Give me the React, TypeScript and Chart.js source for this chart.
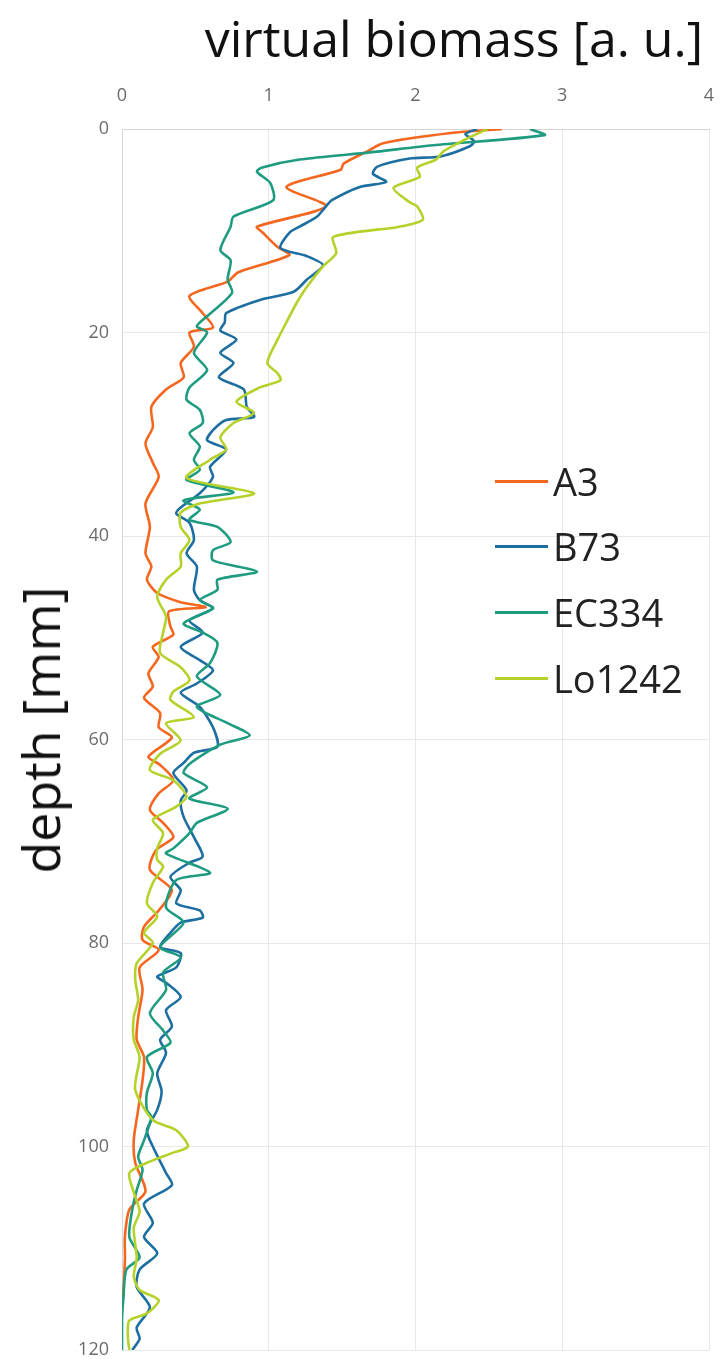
import React, { useEffect, useRef } from "react";
import { Chart, registerables } from "chart.js";

Chart.register(...registerables);

// [depth (mm), virtual biomass (a.u.)]
const a3Profile: number[][] = [
  [0,2.59],[0.4,2.24],[1.4,1.78],[2.2,1.67],[3.4,1.51],[4.0,1.49],[5.7,1.12],[7.6,1.39],[9.6,0.92],[10.2,0.96],[11.6,1.06],[12.4,1.14],[14.1,0.79],[15.0,0.72],[16.4,0.46],[18.1,0.55],[19.5,0.62],[20.0,0.46],[21.4,0.49],[23.0,0.40],[24.4,0.42],[25.6,0.30],[27.3,0.20],[29.3,0.21],[30.9,0.16],[32.8,0.21],[34.2,0.25],[36.8,0.16],[39.1,0.19],[41.7,0.16],[43.0,0.20],[44.3,0.17],[45.6,0.24],[46.5,0.40],[47.0,0.57],[47.4,0.32],[48.9,0.33],[49.7,0.35],[50.9,0.21],[51.9,0.25],[53.5,0.18],[54.8,0.21],[55.9,0.15],[57.4,0.26],[58.8,0.25],[59.8,0.34],[61.7,0.18],[62.5,0.26],[64.0,0.35],[65.3,0.25],[66.9,0.19],[68.2,0.28],[69.6,0.35],[70.9,0.23],[72.8,0.19],[74.8,0.34],[76.8,0.25],[78.4,0.15],[79.7,0.14],[80.7,0.25],[82.4,0.12],[84.6,0.14],[87.3,0.11],[89.5,0.10],[91.2,0.15],[93.5,0.14],[96.4,0.11],[99.4,0.08],[101.6,0.09],[104.4,0.16],[106.2,0.05],[108.8,0.02],[111.0,0.02],[114.0,0.01],[116.0,0.00]
];

const b73Profile: number[][] = [
  [0,2.42],[0.5,2.34],[1.2,2.40],[1.7,2.37],[2.7,2.17],[2.9,1.96],[3.7,1.74],[4.4,1.71],[5.2,1.80],[5.7,1.62],[7.0,1.43],[7.6,1.39],[8.6,1.33],[9.6,1.21],[10.2,1.14],[11.7,1.08],[12.5,1.26],[13.4,1.37],[14.8,1.26],[16.0,1.17],[16.8,0.94],[18.1,0.71],[19.0,0.70],[19.8,0.67],[20.7,0.78],[22.0,0.67],[23.0,0.76],[24.4,0.66],[25.6,0.83],[27.3,0.85],[28.3,0.90],[28.6,0.71],[29.6,0.62],[30.6,0.58],[31.5,0.71],[33.2,0.60],[34.2,0.62],[35.8,0.53],[37.2,0.40],[37.8,0.37],[38.7,0.46],[40.4,0.49],[41.7,0.44],[43.0,0.51],[45.3,0.49],[46.3,0.53],[47.1,0.62],[48.3,0.46],[49.5,0.55],[50.9,0.40],[52.2,0.53],[53.2,0.62],[54.5,0.51],[55.4,0.40],[56.8,0.53],[58.8,0.62],[60.7,0.65],[61.3,0.49],[62.3,0.42],[63.3,0.35],[65.0,0.44],[66.0,0.40],[67.6,0.42],[69.6,0.49],[71.5,0.55],[72.1,0.46],[73.5,0.33],[74.8,0.40],[76.1,0.37],[76.8,0.53],[77.5,0.55],[78.0,0.40],[79.0,0.33],[80.4,0.26],[81.0,0.40],[82.4,0.37],[83.3,0.24],[83.9,0.30],[85.3,0.40],[86.6,0.30],[88.2,0.34],[89.5,0.26],[90.8,0.30],[92.8,0.24],[94.6,0.27],[96.4,0.24],[98.4,0.17],[100.0,0.21],[102.6,0.30],[103.8,0.34],[105.6,0.15],[107.5,0.21],[108.9,0.15],[110.5,0.24],[112.1,0.12],[113.8,0.10],[115.8,0.19],[117.8,0.10],[118.9,0.12],[120.0,0.07]
];

const ec334Profile: number[][] = [
  [0,2.78],[0.6,2.88],[1.6,2.12],[2.3,1.69],[3.0,1.21],[3.8,0.95],[4.2,0.92],[5.3,1.01],[7.0,1.03],[8.6,0.76],[9.6,0.74],[11.9,0.67],[12.9,0.74],[14.8,0.72],[16.1,0.75],[18.4,0.58],[19.4,0.51],[20.0,0.58],[22.0,0.49],[23.7,0.58],[25.4,0.46],[26.6,0.44],[27.6,0.53],[28.9,0.55],[29.9,0.46],[31.2,0.53],[32.5,0.49],[33.5,0.53],[34.5,0.44],[35.7,0.76],[36.5,0.42],[37.4,0.53],[38.4,0.46],[39.1,0.65],[40.6,0.74],[41.4,0.62],[42.4,0.62],[43.5,0.92],[44.3,0.65],[45.3,0.65],[46.3,0.53],[47.1,0.62],[48.6,0.42],[49.5,0.55],[50.5,0.65],[52.5,0.60],[53.8,0.51],[55.6,0.67],[56.8,0.51],[58.4,0.72],[59.6,0.87],[60.5,0.67],[62.4,0.46],[63.3,0.42],[64.7,0.58],[65.8,0.46],[66.8,0.72],[68.2,0.51],[69.2,0.46],[70.7,0.35],[71.2,0.30],[73.1,0.60],[73.8,0.37],[76.5,0.30],[78.0,0.42],[80.4,0.26],[81.4,0.40],[82.9,0.28],[84.6,0.30],[86.9,0.19],[88.6,0.28],[89.8,0.33],[91.2,0.17],[92.8,0.21],[94.7,0.17],[96.4,0.17],[97.1,0.20],[99.4,0.15],[101.0,0.11],[102.3,0.14],[104.3,0.10],[106.2,0.07],[108.9,0.05],[110.9,0.12],[112.1,0.03],[114.8,0.01],[117.0,0.00],[120.0,0.00]
];

const lo1242Profile: number[][] = [
  [0,2.49],[1.1,2.33],[2.2,2.19],[3.0,2.14],[3.8,2.01],[4.7,2.03],[5.8,1.85],[7.2,1.96],[7.6,2.01],[8.9,2.05],[9.6,1.89],[10.6,1.44],[12.2,1.46],[13.5,1.37],[15.5,1.26],[17.1,1.19],[19.0,1.12],[20.7,1.06],[23.0,0.99],[24.0,1.06],[24.7,1.08],[25.4,0.94],[26.8,0.78],[27.9,0.90],[28.9,0.76],[30.3,0.67],[31.5,0.71],[32.5,0.60],[34.3,0.44],[35.8,0.90],[36.8,0.53],[37.7,0.40],[39.1,0.40],[40.4,0.46],[41.7,0.40],[43.0,0.40],[44.3,0.30],[46.0,0.24],[47.9,0.30],[49.5,0.28],[51.5,0.26],[52.9,0.40],[54.2,0.46],[55.3,0.35],[56.1,0.33],[57.8,0.49],[58.4,0.30],[60.1,0.40],[61.4,0.26],[63.0,0.19],[64.0,0.35],[65.6,0.44],[66.6,0.37],[67.9,0.21],[69.2,0.28],[70.7,0.24],[71.8,0.24],[72.5,0.28],[74.1,0.21],[76.1,0.17],[77.4,0.24],[79.0,0.15],[80.0,0.21],[82.0,0.10],[83.6,0.09],[85.6,0.11],[87.3,0.08],[89.5,0.08],[91.2,0.12],[94.4,0.09],[97.4,0.21],[98.4,0.37],[100.0,0.45],[100.6,0.35],[101.6,0.17],[102.6,0.05],[104.5,0.08],[106.4,0.12],[108.0,0.08],[110.9,0.10],[112.8,0.08],[114.1,0.12],[115.1,0.25],[116.4,0.17],[117.1,0.05],[118.7,0.04],[120.0,0.05]
];

const seriesNames = ["A3", "B73", "EC334", "Lo1242"];
const seriesColors = ["#F5661F", "#1C6FA0", "#1F9C80", "#B4D22A"];
const seriesProfiles = [a3Profile, b73Profile, ec334Profile, lo1242Profile];

const xTitle = "virtual biomass [a. u.]";
const yTitle = "depth [mm]";

const FONT = "'Open Sans', 'Noto Sans', sans-serif";

export default function App() {
  const canvasRef = useRef<HTMLCanvasElement | null>(null);

  useEffect(() => {
    const canvas = canvasRef.current;
    if (!canvas) return;
    const chart = new Chart(canvas, {
      type: "scatter",
      data: {
        datasets: seriesProfiles.map((p, i) => ({
          label: seriesNames[i],
          data: p.map(([d, v]) => ({ x: v, y: d })),
          showLine: true,
          borderColor: seriesColors[i],
          backgroundColor: seriesColors[i],
          borderWidth: 2.6,
          pointRadius: 0,
          tension: 0.25,
          order: 3 - i,
        })),
      },
      options: {
        responsive: false,
        animation: false,
        maintainAspectRatio: false,
        layout: { padding: { left: 0, top: 0, right: 12, bottom: 9 } },
        plugins: { legend: { display: false }, tooltip: { enabled: false } },
        scales: {
          x: {
            type: "linear",
            position: "top",
            min: 0,
            max: 4,
            ticks: {
              stepSize: 1,
              color: "#6b6b6b",
              font: { family: FONT, size: 18 },
              padding: 22,
            },
            grid: { color: "#e8e8e8", drawTicks: false, lineWidth: 1 },
            border: { color: "#d6d6d6" },
            afterFit: (s: any) => {
              s.height = 129;
              s.paddingLeft = 0;
              s.paddingRight = 0;
            },
          },
          y: {
            type: "linear",
            reverse: true,
            min: 0,
            max: 120,
            ticks: {
              stepSize: 20,
              color: "#6b6b6b",
              font: { family: FONT, size: 18 },
              padding: 13,
            },
            grid: { color: "#e8e8e8", drawTicks: false, lineWidth: 1 },
            border: { color: "#d6d6d6" },
            afterFit: (s: any) => {
              s.width = 122;
              s.paddingTop = 0;
              s.paddingBottom = 0;
            },
          },
        },
      },
    });
    return () => chart.destroy();
  }, []);

  const legendTops = [482, 547, 613, 679];

  return (
    <div
      style={{
        position: "absolute",
        left: 0,
        top: 0,
        width: 721,
        height: 1359,
        background: "#ffffff",
        overflow: "hidden",
        fontFamily: FONT,
      }}
    >
      <canvas
        ref={canvasRef}
        width={721}
        height={1359}
        style={{ position: "absolute", left: 0, top: 0, width: 721, height: 1359 }}
      />
      <div
        style={{
          position: "absolute",
          right: 18,
          top: 13,
          fontSize: 50,
          lineHeight: 1,
          color: "#111",
          whiteSpace: "nowrap",
        }}
      >
        {xTitle}
      </div>
      <div
        style={{
          position: "absolute",
          left: 40,
          top: 730,
          fontSize: 52,
          lineHeight: 1,
          color: "#111",
          whiteSpace: "nowrap",
          transform: "translate(-50%, -50%) rotate(-90deg)",
        }}
      >
        {yTitle}
      </div>
      {seriesNames.map((name, i) => (
        <div
          key={name}
          style={{
            position: "absolute",
            left: 495,
            top: legendTops[i] - 21,
            height: 40,
            display: "flex",
            alignItems: "center",
            whiteSpace: "nowrap",
          }}
        >
          <div style={{ width: 53, height: 3, background: seriesColors[i] }} />
          <div style={{ marginLeft: 5, fontSize: 38, lineHeight: "40px", color: "#222" }}>{name}</div>
        </div>
      ))}
    </div>
  );
}
